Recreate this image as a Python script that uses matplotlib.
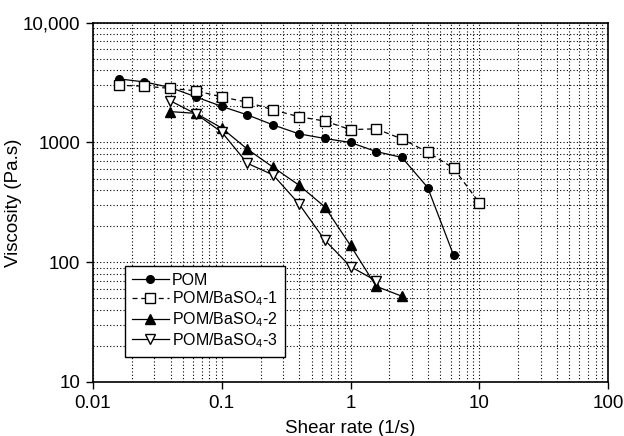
import matplotlib
matplotlib.use("Agg")
import matplotlib.pyplot as plt
from matplotlib.ticker import FixedLocator, FixedFormatter, LogLocator, NullFormatter

plt.rcParams['font.family'] = ['Liberation Sans', 'DejaVu Sans']
plt.rcParams['mathtext.default'] = 'regular'

# Shear rates (1/s)
x_pom = [0.0158, 0.0251, 0.0398, 0.0631, 0.1, 0.158, 0.251, 0.398, 0.631, 1.0, 1.58, 2.51, 3.98, 6.31]
x_b1 = [0.0158, 0.0251, 0.0398, 0.0631, 0.1, 0.158, 0.251, 0.398, 0.631, 1.0, 1.58, 2.51, 3.98, 6.31, 10.0]
x_b2 = [0.0398, 0.0631, 0.1, 0.158, 0.251, 0.398, 0.631, 1.0, 1.58, 2.51]
x_b3 = [0.0398, 0.0631, 0.1, 0.158, 0.251, 0.398, 0.631, 1.0, 1.58]

# Viscosity (Pa.s)
y_pom = [3400, 3200, 2880, 2400, 2000, 1700, 1400, 1180, 1080, 1000, 840, 750, 420, 115]
y_b1 = [3000, 2950, 2830, 2700, 2400, 2170, 1870, 1640, 1510, 1280, 1300, 1070, 830, 610, 314]
y_b2 = [1810, 1750, 1320, 880, 620, 440, 290, 138, 63, 52]
y_b3 = [2230, 1730, 1220, 670, 535, 307, 153, 92, 70]

labels = ['POM', 'POM/BaSO$_4$-1', 'POM/BaSO$_4$-2', 'POM/BaSO$_4$-3']
x_ticks = [0.01, 0.1, 1, 10, 100]
x_tick_labels = ['0.01', '0.1', '1', '10', '100']
y_ticks = [10, 100, 1000, 10000]
y_tick_labels = ['10', '100', '1000', '10,000']

fig = plt.figure(figsize=(6.24, 4.36), dpi=100)
ax = fig.add_axes([93/624, 1 - 382/436, (608-93)/624, (382-22.7)/436])
ax.set_xscale('log')
ax.set_yscale('log')
ax.set_xlim(0.01, 100)
ax.set_ylim(10, 10000)

ax.xaxis.set_major_locator(FixedLocator(x_ticks))
ax.xaxis.set_major_formatter(FixedFormatter(x_tick_labels))
ax.yaxis.set_major_locator(FixedLocator(y_ticks))
ax.yaxis.set_major_formatter(FixedFormatter(y_tick_labels))
for axis in (ax.xaxis, ax.yaxis):
    axis.set_minor_locator(LogLocator(base=10, subs=range(2, 10)))
    axis.set_minor_formatter(NullFormatter())

ax.grid(True, which='both', color='black', linestyle=(0, (1, 2)), linewidth=0.8)
ax.set_axisbelow(True)
ax.tick_params(which='major', direction='out', length=5, width=1, labelsize=13.5, pad=4)
ax.tick_params(which='minor', length=0)
for s in ax.spines.values():
    s.set_linewidth(1.2)
    s.set_color('black')

lw = 0.9
ax.plot(x_pom, y_pom, color='black', lw=lw, marker='o', ms=5.5, mfc='black', mec='black', label=labels[0])
ax.plot(x_b1, y_b1, color='black', lw=lw, linestyle=(0, (4, 3)), marker='s', ms=6.5, mfc='white', mec='black', mew=1, label=labels[1])
ax.plot(x_b2, y_b2, color='black', lw=lw, marker='^', ms=6.5, mfc='black', mec='black', label=labels[2])
ax.plot(x_b3, y_b3, color='black', lw=lw, marker='v', ms=6.5, mfc='white', mec='black', mew=1, label=labels[3])

ax.set_xlabel('Shear rate (1/s)', fontsize=13.5, labelpad=6)
ax.set_ylabel('Viscosity (Pa.s)', fontsize=13.5)
ax.yaxis.set_label_coords(-0.138, 0.5)

leg = ax.legend(loc='lower left', bbox_to_anchor=(0.062, 0.07), fontsize=11.5, frameon=True,
                fancybox=False, framealpha=1, edgecolor='black', handlelength=2.3,
                handletextpad=0.2, borderpad=0.45, labelspacing=0.12, borderaxespad=0)
leg.get_frame().set_linewidth(1.0)

fig.savefig('out.png', dpi=100)
